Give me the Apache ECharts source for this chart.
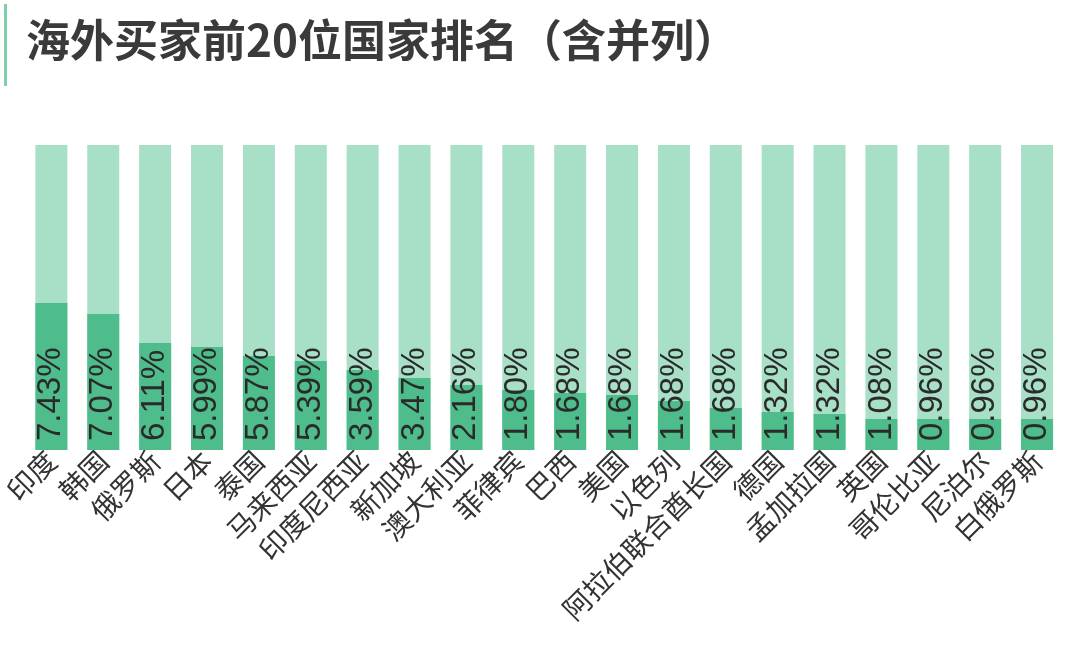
<!DOCTYPE html>
<html>
<head>
<meta charset="utf-8">
<script src="https://cdn.jsdelivr.net/npm/echarts@6/dist/echarts.min.js"></script>
<style>
html,body{margin:0;padding:0;background:#fff;}
#chart{width:1080px;height:651px;}
</style>
</head>
<body>
<div id="chart"></div>
<script>
// categories and values
var countries = ['印度', '韩国', '俄罗斯', '日本', '泰国', '马来西亚', '印度尼西亚', '新加坡', '澳大利亚', '菲律宾',
	'巴西', '美国', '以色列', '阿拉伯联合酋长国', '德国', '孟加拉国', '英国', '哥伦比亚', '尼泊尔', '白俄罗斯'];
var shareLabels = ['7.43%', '7.07%', '6.11%', '5.99%', '5.87%', '5.39%', '3.59%', '3.47%', '2.16%', '1.80%',
	'1.68%', '1.68%', '1.68%', '1.68%', '1.32%', '1.32%', '1.08%', '0.96%', '0.96%', '0.96%'];
// bar heights as drawn in the source (not proportional to the shares), on a 0-305 scale
var barHeights = [147, 136, 107, 103, 94, 89, 80, 72, 65, 60, 57, 55, 49, 42, 38, 36, 31, 31, 31, 31];
var fullScale = 305;

var myChart = echarts.init(document.getElementById('chart'));
var option = {
	animation: false,
	graphic: [{
		type: 'rect', left: 4, top: 4, shape: {width: 3, height: 82},
		style: {fill: '#7fcfa8'}
	}, {
		type: 'text', left: 26, top: 18,
		style: {text: '海外买家前20位国家排名（含并列）', fill: '#3a3a3a',
			font: 'bold 44px "Noto Sans CJK SC"'}
	}],
	grid: {left: 16, right: 17, top: 145, bottom: 201},
	xAxis: {
		type: 'category',
		data: countries,
		axisLine: {show: false},
		axisTick: {show: false},
		axisLabel: {rotate: 45, interval: 0, fontSize: 28, color: '#333',
			fontFamily: 'Noto Sans CJK SC', margin: 6}
	},
	yAxis: {type: 'value', min: 0, max: fullScale, show: false, splitLine: {show: false}},
	series: [{
		type: 'bar',
		data: barHeights,
		barWidth: 32,
		showBackground: true,
		backgroundStyle: {color: '#a8dfc7'},
		itemStyle: {color: '#4fbd8b'},
		label: {
			show: true,
			position: 'insideBottom',
			rotate: 90,
			align: 'left',
			verticalAlign: 'middle',
			distance: 9,
			fontSize: 33,
			color: '#2a2a2a',
			fontFamily: 'Liberation Sans',
			formatter: function(p) { return shareLabels[p.dataIndex]; }
		}
	}]
};
myChart.setOption(option);
</script>
</body>
</html>
